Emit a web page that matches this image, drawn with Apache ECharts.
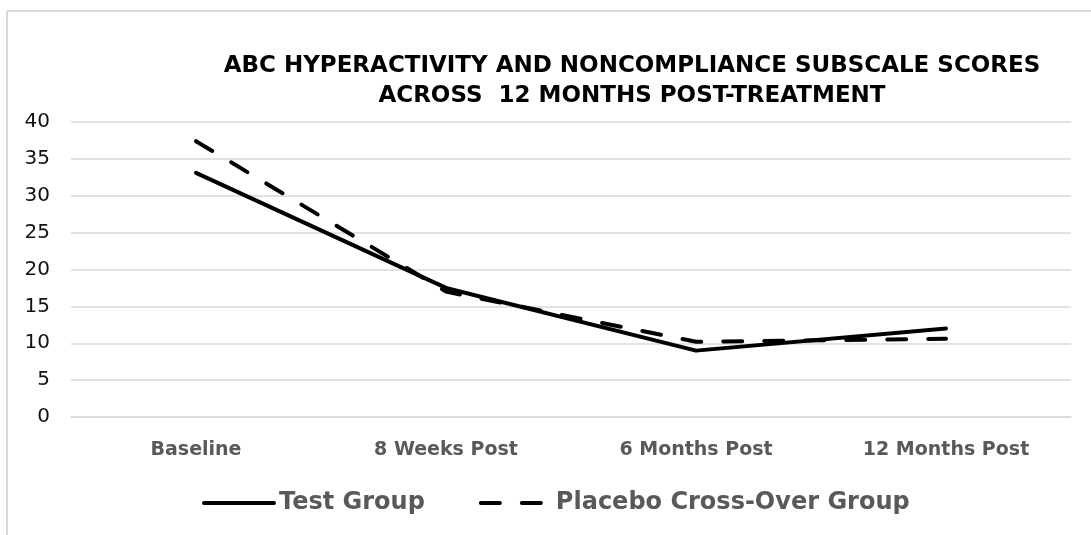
<html>
<head>
<meta http-equiv="Content-Type" content="text/html; charset=utf-8" />
<title>ABC Hyperactivity and Noncompliance</title>
<style>
	html, body { margin: 0; padding: 0; background: #fff; }
	#abc-chart { width: 1091px; height: 535px; }
</style>
</head>
<body>
	<div id="abc-chart"></div>

	<script src="https://cdn.jsdelivr.net/npm/echarts@6.0.0/dist/echarts.min.js"></script>
	<script type="text/javascript">
		// data
		var categories = ['Baseline', '8 Weeks Post', '6 Months Post', '12 Months Post'];
		var testGroup = [33.1, 17.5, 9.0, 12.0];
		var placeboGroup = [37.4, 17.0, 10.2, 10.6];
		var seriesNames = ['Test Group', 'Placebo Cross-Over Group'];
		var yTicks = { min: 0, max: 40, interval: 5 };

		var gridColor = '#d9d9d9';

		var myChart = echarts.init(document.getElementById('abc-chart'));
		var option = {
			animation: false,
			title: {
				text: 'ABC HYPERACTIVITY AND NONCOMPLIANCE SUBSCALE SCORES\nACROSS  12 MONTHS POST-TREATMENT',
				left: 627,
				top: 46,
				textAlign: 'center',
				textStyle: {
					fontFamily: 'DejaVu Sans',
					fontWeight: 'bold',
					fontSize: 23,
					lineHeight: 30,
					color: '#000'
				}
			},
			legend: {
				left: 197,
				top: 486,
				itemWidth: 70,
				itemHeight: 14,
				itemGap: 54,
				data: seriesNames,
				// no marker dot in the legend, just the thick line
				itemStyle: { opacity: 0 },
				lineStyle: { width: 4, cap: 'round' },
				textStyle: {
					fontFamily: 'DejaVu Sans',
					fontWeight: 'bold',
					fontSize: 24,
					color: '#595959'
				}
			},
			grid: {
				left: 71,
				right: 20,
				top: 122,
				bottom: 118
			},
			xAxis: {
				type: 'category',
				data: categories,
				boundaryGap: true,
				axisTick: { show: false },
				axisLine: { lineStyle: { color: gridColor, width: 1.5 } },
				axisLabel: {
					margin: 24,
					fontFamily: 'DejaVu Sans',
					fontWeight: 'bold',
					fontSize: 19,
					color: '#595959'
				}
			},
			yAxis: {
				type: 'value',
				min: yTicks.min,
				max: yTicks.max,
				interval: yTicks.interval,
				axisLine: { show: false },
				axisTick: { show: false },
				splitLine: { lineStyle: { color: gridColor, width: 1.5 } },
				axisLabel: {
					margin: 21,
					fontFamily: 'DejaVu Sans',
					fontSize: 20,
					color: '#111'
				}
			},
			series: [
				{
					name: seriesNames[0],
					type: 'line',
					data: testGroup,
					symbol: 'none',
					lineStyle: { color: '#000', width: 4, cap: 'round', join: 'round' },
					itemStyle: { color: '#000' }
				},
				{
					name: seriesNames[1],
					type: 'line',
					data: placeboGroup,
					symbol: 'none',
					lineStyle: { color: '#000', width: 4, type: [19, 22], cap: 'round', join: 'round' },
					itemStyle: { color: '#000' }
				}
			],
			graphic: [
				// chart frame, only the top and left edges show in the crop
				{ type: 'line', shape: { x1: 7, y1: 11, x2: 1091, y2: 11 }, style: { stroke: gridColor, lineWidth: 2 }, silent: true },
				{ type: 'line', shape: { x1: 7, y1: 11, x2: 7, y2: 535 }, style: { stroke: gridColor, lineWidth: 2 }, silent: true }
			]
		};
		myChart.setOption(option);
	</script>
</body>
</html>
